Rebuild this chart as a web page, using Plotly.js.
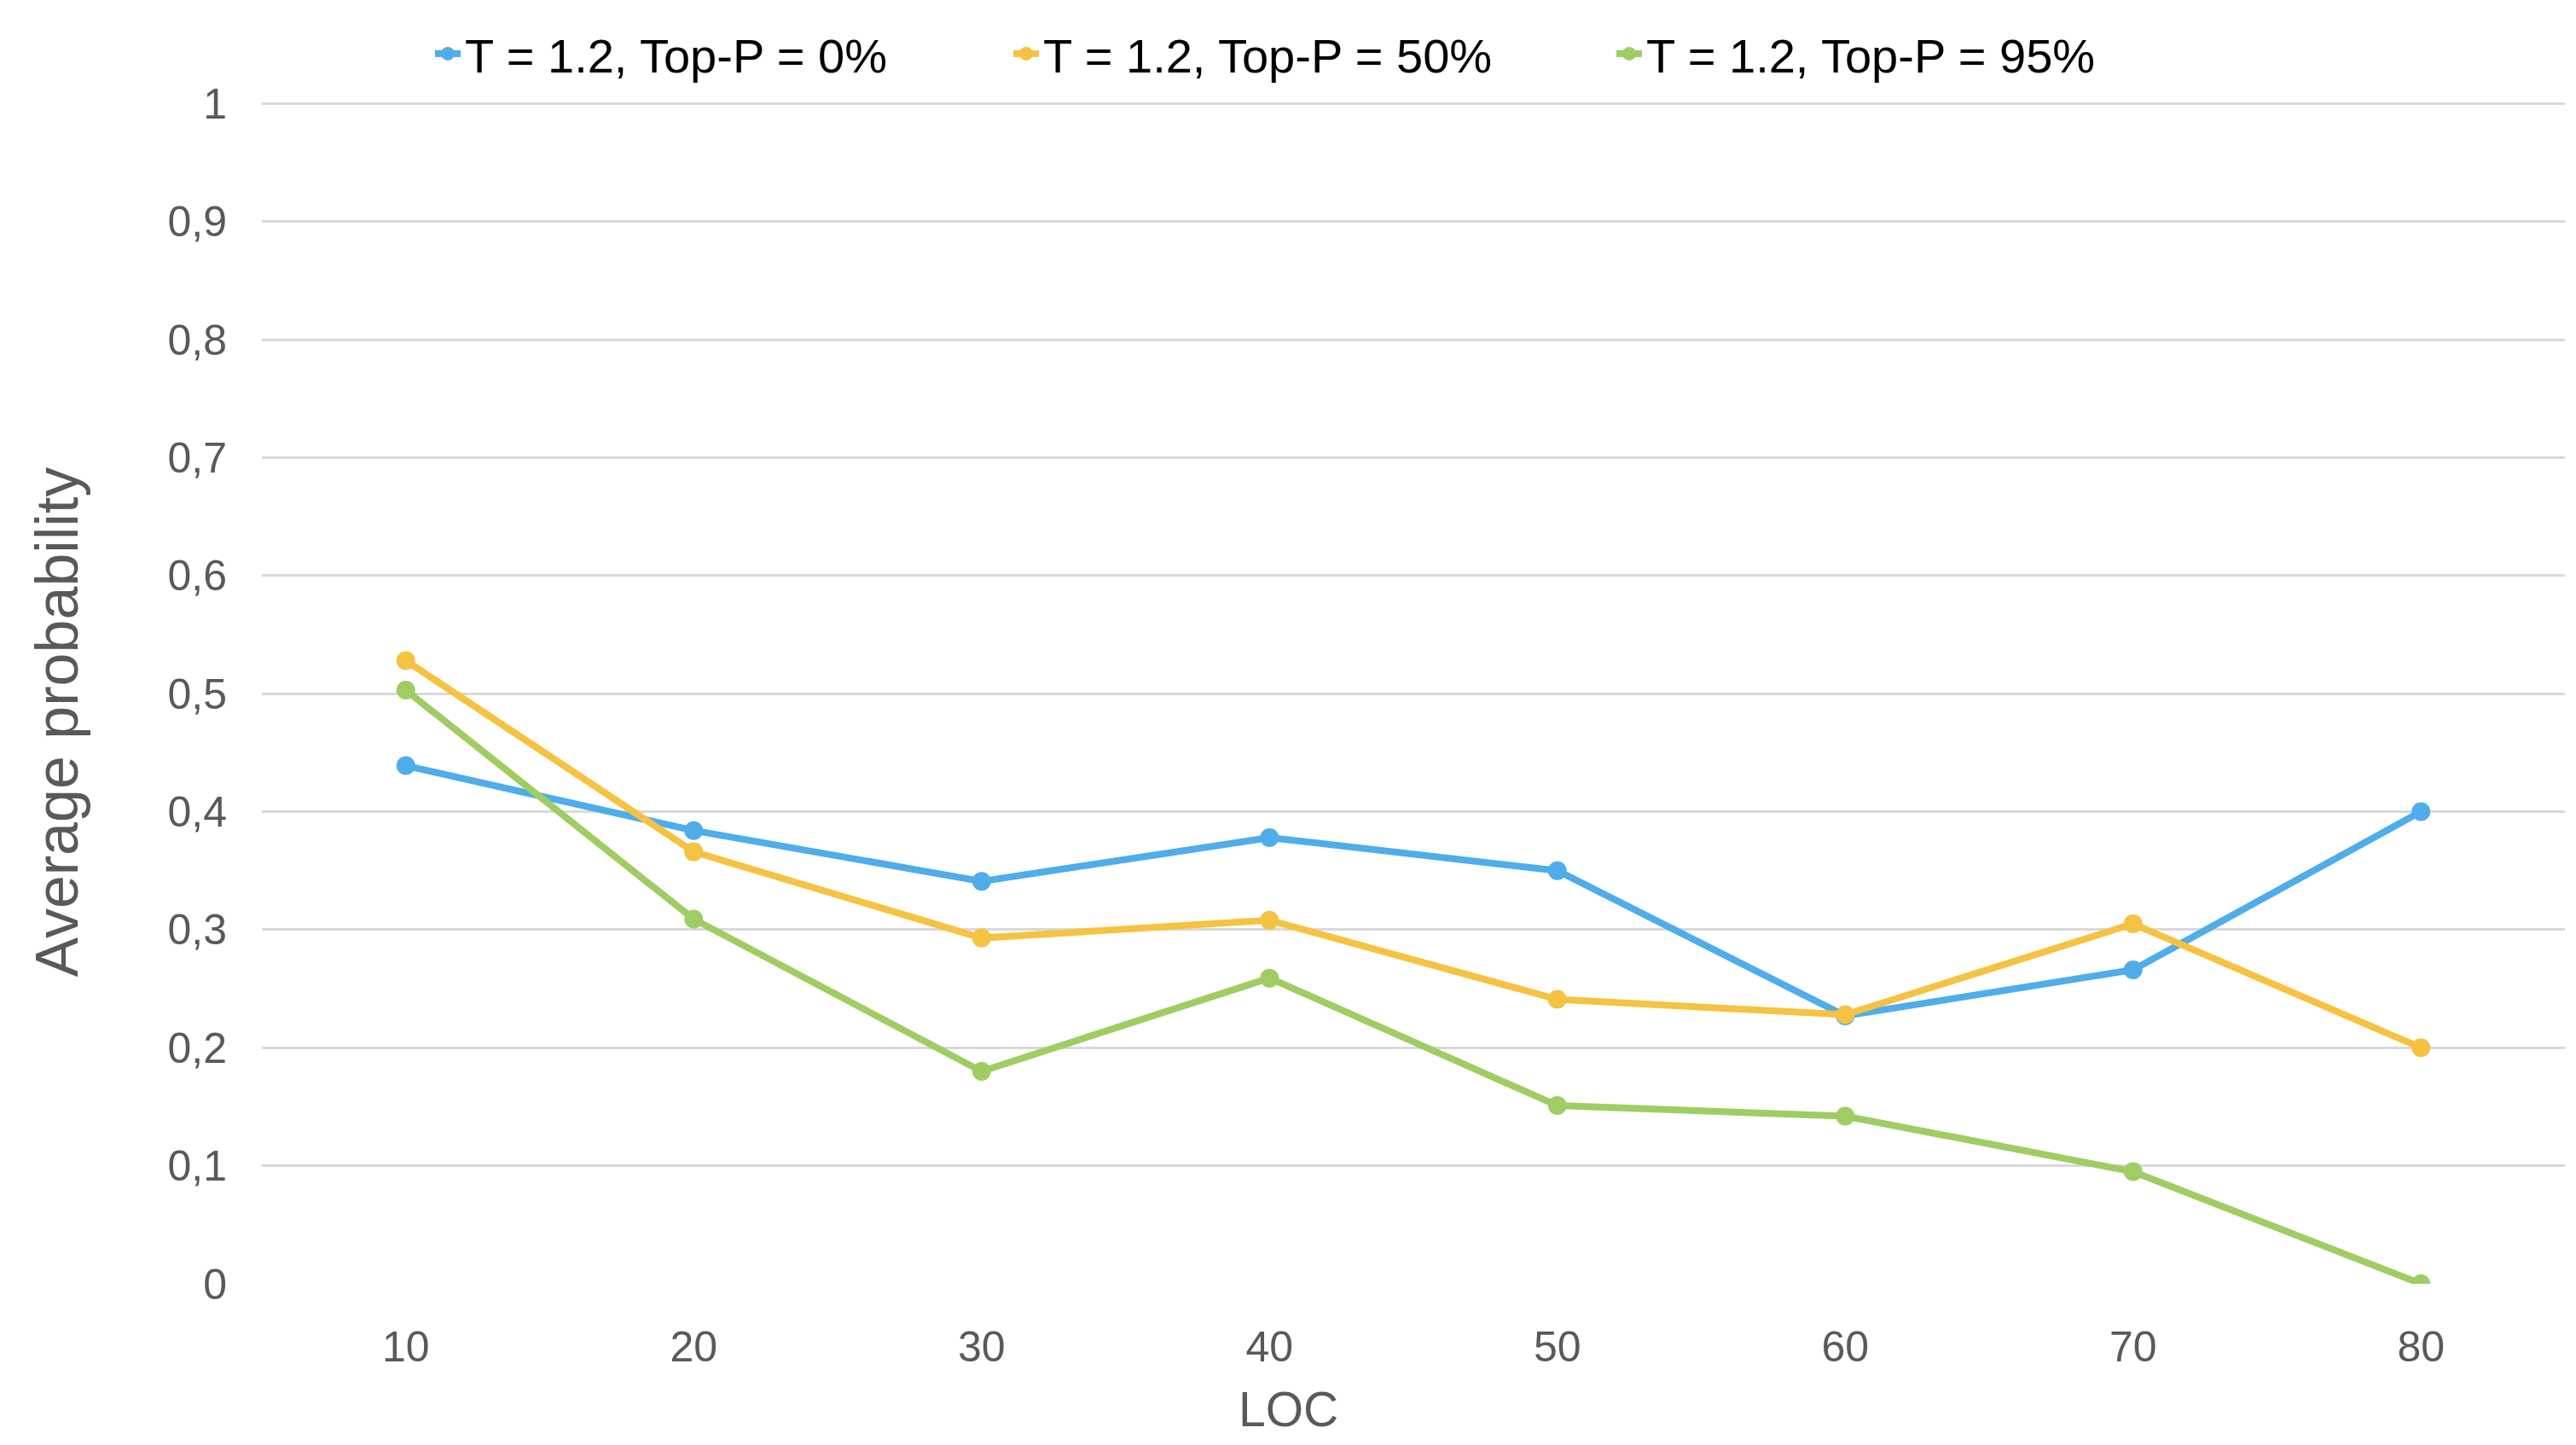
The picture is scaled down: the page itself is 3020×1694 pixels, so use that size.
<!DOCTYPE html>
<html>
<head>
<meta charset="utf-8">
<script src="https://cdn.plot.ly/plotly-3.0.1.min.js"></script>
<style>
  body { margin: 0; background: #fff; }
  #myDiv { width: 3020px; height: 1694px; }
</style>
</head>
<body>
<div id="myDiv"></div>
<script>
// values
var loc = ['10', '20', '30', '40', '50', '60', '70', '80'];
var topP0  = [0.439, 0.384, 0.341, 0.378, 0.350, 0.227, 0.266, 0.400];
var topP50 = [0.528, 0.366, 0.293, 0.308, 0.241, 0.228, 0.305, 0.200];
var topP95 = [0.503, 0.309, 0.180, 0.259, 0.151, 0.142, 0.095, 0.000];
var seriesNames = ['T = 1.2, Top-P = 0%', 'T = 1.2, Top-P = 50%', 'T = 1.2, Top-P = 95%'];
var yTicks = [0, 0.1, 0.2, 0.3, 0.4, 0.5, 0.6, 0.7, 0.8, 0.9, 1];

var colors = ['#4eadea', '#f5c242', '#9fcd63'];
// legend entry widths, so the gaps between entries follow the reference
var legendWidths = [633, 662, 580];
var font = 'Liberation Sans, Arial, sans-serif';
var grey = '#595959';

function makeTrace(name, vals, color, lw) {
    return {
        x: loc, y: vals, name: name,
        type: 'scatter', mode: 'lines+markers',
        line: {color: color, width: 8},
        marker: {color: color, size: 22},
        legendwidth: lw
    };
}

var data = [
    makeTrace(seriesNames[0], topP0, colors[0], legendWidths[0]),
    makeTrace(seriesNames[1], topP50, colors[1], legendWidths[1]),
    makeTrace(seriesNames[2], topP95, colors[2], legendWidths[2])
];

var layout = {
    width: 3020, height: 1694,
    margin: {l: 307, r: 13, t: 120, b: 189},
    paper_bgcolor: '#fff', plot_bgcolor: '#fff',
    separators: ',.',
    font: {family: font, color: grey, size: 50},
    showlegend: true,
    legend: {
        orientation: 'h',
        xref: 'container', yref: 'container',
        x: 0.5, xanchor: 'center',
        y: 1 - 63 / 1694, yanchor: 'middle',
        font: {family: font, size: 56, color: '#000'},
        itemwidth: 30
    },
    xaxis: {
        type: 'category',
        range: [-0.5, 7.5],
        showgrid: false, zeroline: false, showline: false,
        ticks: '',
        ticklabelstandoff: 40,
        tickfont: {size: 50, color: grey}
    },
    yaxis: {
        // a hair above 1 so the top gridline is still drawn
        range: [0, 1.001],
        tickvals: yTicks,
        showgrid: true, gridcolor: '#d9d9d9', gridwidth: 3,
        zeroline: false, showline: false,
        ticks: '',
        ticklabelstandoff: 40,
        tickfont: {size: 50, color: grey}
    },
    annotations: [
        {text: 'LOC', xref: 'paper', yref: 'paper', x: 0.4456, y: -0.1062,
         xanchor: 'center', yanchor: 'middle', showarrow: false,
         font: {size: 57, color: grey}},
        {text: 'Average probability', xref: 'paper', yref: 'paper', x: -0.0889, y: 0.4754,
         xanchor: 'center', yanchor: 'middle', showarrow: false, textangle: -90,
         font: {size: 70, color: grey}}
    ]
};

Plotly.newPlot('myDiv', data, layout, {displayModeBar: false, staticPlot: true});
</script>
</body>
</html>
